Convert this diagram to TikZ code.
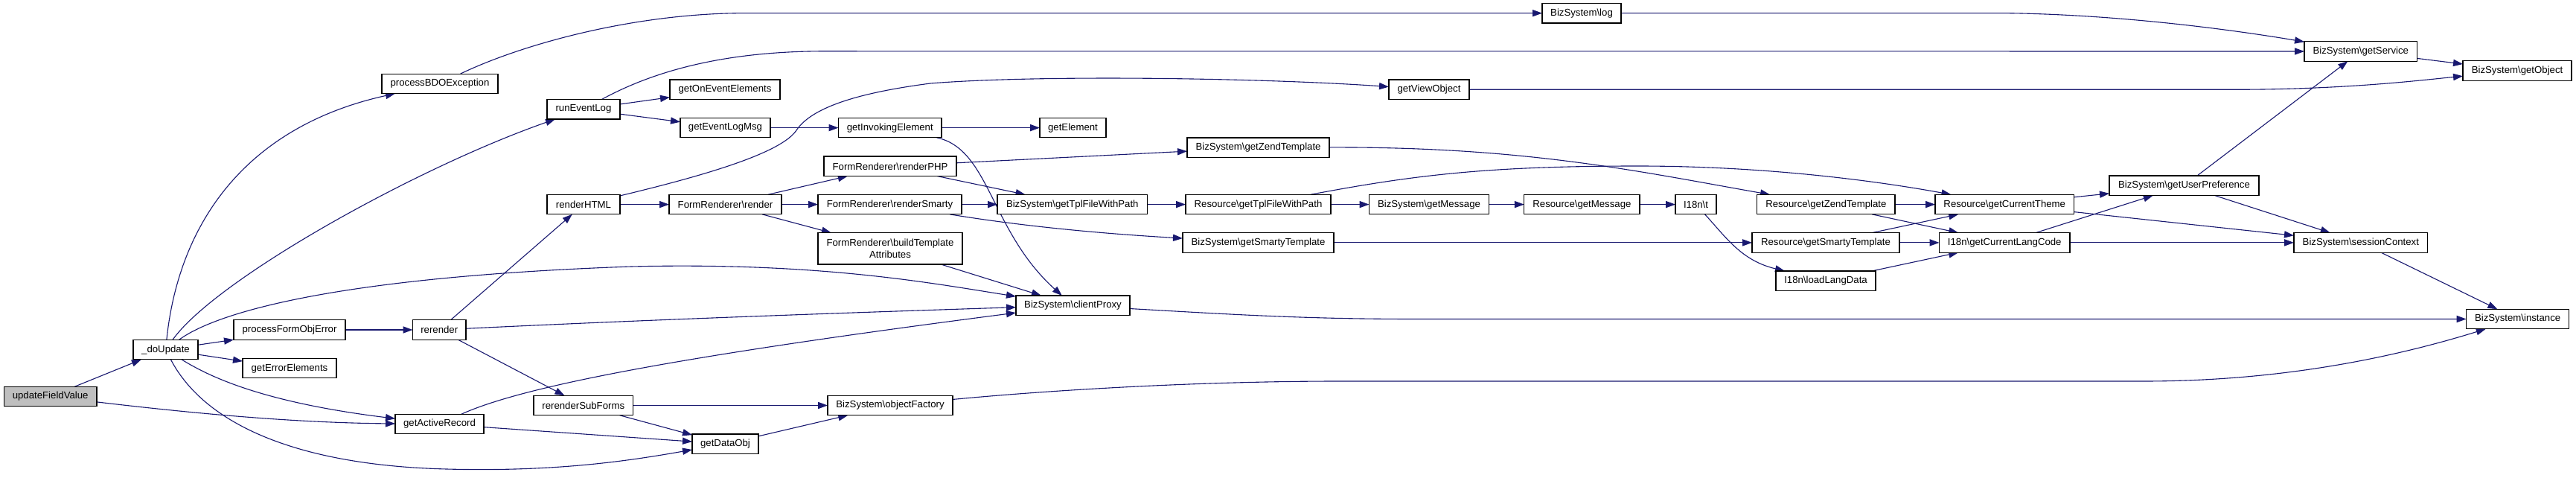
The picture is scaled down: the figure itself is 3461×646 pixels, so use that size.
\documentclass[tikz,border=0pt]{standalone}
\usepackage{fontspec}
\setmainfont{Liberation Sans}
\usetikzlibrary{arrows.meta}
\definecolor{edgeblue}{HTML}{191970}
\definecolor{rootgrey}{HTML}{BFBFBF}
\pgfdeclarelayer{bg}
\pgfsetlayers{bg,main}
\newcommand{\bs}{\textbackslash{}}
\begin{document}
\begin{tikzpicture}[x=0.5pt,y=-0.5pt,
  box/.style={draw=black, line width=0.6pt, fill=white, rectangle, inner sep=0pt, outer sep=0pt,
    minimum height=13.25pt, font=\fontsize{6.6pt}{7.8pt}\selectfont, text=black, align=center},
  ed/.style={draw=edgeblue, line width=0.55pt, -{Triangle[length=6.5pt,width=4.6pt]}}]
\useasboundingbox (0,0) rectangle (3461,646);

\node[box, minimum width=62.3pt, fill=rootgrey] (ufv) at (67.7,532.5) {updateFieldValue};
\node[box, minimum width=43.5pt] (du) at (222.5,469.6) {\_doUpdate};
\node[box, minimum width=78pt] (pbdo) at (591,112.4) {processBDOException};
\node[box, minimum width=75pt] (pfoe) at (389,443) {processFormObjError};
\node[box, minimum width=63pt] (gee) at (389,494.6) {getErrorElements};
\node[box, minimum width=59.5pt] (gar) at (590.5,569.5) {getActiveRecord};
\node[box, minimum width=35.75pt] (rr) at (590.25,443) {rerender};
\node[box, minimum width=49pt] (rel) at (784,146.8) {runEventLog};
\node[box, minimum width=74pt] (goee) at (974,120.3) {getOnEventElements};
\node[box, minimum width=60.5pt] (gelm) at (974.5,171.6) {getEventLogMsg};
\node[box, minimum width=69.25pt] (gie) at (1195.75,171.6) {getInvokingElement};
\node[box, minimum width=49pt] (rh) at (784,274.6) {renderHTML};
\node[box, minimum width=75.5pt] (frr) at (974.5,274.6) {FormRenderer\bs render};
\node[box, minimum width=89pt] (rphp) at (1196,223.3) {FormRenderer\bs renderPHP};
\node[box, minimum width=96.5pt] (rsm) at (1195.5,274.6) {FormRenderer\bs renderSmarty};
\node[box, minimum width=97pt, minimum height=21.15pt] (bta) at (1196,333.8) {FormRenderer\bs buildTemplate\\Attributes};
\node[box, minimum width=66.75pt] (rsf) at (783.75,544.5) {rerenderSubForms};
\node[box, minimum width=44.5pt] (gdo) at (974.5,596.2) {getDataObj};
\node[box, minimum width=84pt] (of) at (1196,544.5) {BizSystem\bs objectFactory};
\node[box, minimum width=44.5pt] (gel) at (1441.5,171.6) {getElement};
\node[box, minimum width=95.5pt] (bgzt) at (1690.5,198.3) {BizSystem\bs getZendTemplate};
\node[box, minimum width=100.75pt] (bgtfp) at (1440.75,274.6) {BizSystem\bs getTplFileWithPath};
\node[box, minimum width=97.5pt] (rgtfp) at (1690.5,274.6) {Resource\bs getTplFileWithPath};
\node[box, minimum width=101.5pt] (bgst) at (1690.5,325.9) {BizSystem\bs getSmartyTemplate};
\node[box, minimum width=76.5pt] (cp) at (1441.5,410.2) {BizSystem\bs clientProxy};
\node[box, minimum width=53pt] (log) at (2125,17.7) {BizSystem\bs log};
\node[box, minimum width=54pt] (gvo) at (1920,120.3) {getViewObject};
\node[box, minimum width=80.5pt] (bgm) at (1920,274.6) {BizSystem\bs getMessage};
\node[box, minimum width=77.65pt] (rgm) at (2125.4,274.6) {Resource\bs getMessage};
\node[box, minimum width=27.5pt] (it) at (2278.5,274.6) {I18n\bs t};
\node[box, minimum width=92.7pt] (rgzt) at (2453.3,274.6) {Resource\bs getZendTemplate};
\node[box, minimum width=99pt] (rgst) at (2453,325.9) {Resource\bs getSmartyTemplate};
\node[box, minimum width=67pt] (lld) at (2453,377.2) {I18n\bs loadLangData};
\node[box, minimum width=93.25pt] (rgct) at (2693.25,274.6) {Resource\bs getCurrentTheme};
\node[box, minimum width=87.75pt] (gclc) at (2693.25,325.9) {I18n\bs getCurrentLangCode};
\node[box, minimum width=100.5pt] (gup) at (2934.5,249.3) {BizSystem\bs getUserPreference};
\node[box, minimum width=75.75pt] (gs) at (3171.75,69) {BizSystem\bs getService};
\node[box, minimum width=73pt] (gob) at (3382,95.1) {BizSystem\bs getObject};
\node[box, minimum width=89.8pt] (sc) at (3171.8,325.9) {BizSystem\bs sessionContext};
\node[box, minimum width=69pt] (inst) at (3382.6,428.5) {BizSystem\bs instance};

\begin{pgfonlayer}{bg}
\fill[white] (0,0) rectangle (3461,646);
\draw[ed] (ufv) -- (du);
\draw[ed] (ufv) .. controls (300,560) and (420,568) .. (gar);
\draw[ed] (du) .. controls (240,300) and (330,170) .. (pbdo);
\draw[ed] (du) .. controls (290,375) and (560,225) .. (rel);
\draw[ed] (du) .. controls (290,420) and (450,372) .. (848,358) .. controls (1100,352) and (1250,380) .. (cp);
\draw[ed] (du) -- (pfoe.south west);
\draw[ed] (du) -- (gee);
\draw[ed] (du) .. controls (280,505) and (350,540) .. (gar);
\draw[ed] (du) .. controls (275,570) and (400,625) .. (600,630) .. controls (750,634) and (850,618) .. (gdo);
\draw[ed] (pbdo) .. controls (700,60) and (850,18) .. (1000,17.6) -- (log);
\draw[ed] (rel) .. controls (870,100) and (960,70) .. (1100,68.8) -- (gs);
\draw[ed] (rel) -- (goee);
\draw[ed] (rel) -- (gelm);
\draw[ed] (gelm) -- (gie);
\draw[ed] (gie) -- (gel);
\draw[ed] (gie) .. controls (1330,200) and (1330,310) .. (cp);
\draw[ed] (rh) .. controls (950,235) and (1050,205) .. (1070,175) .. controls (1090,145) and (1150,125) .. (1250,112) .. controls (1400,100) and (1700,105) .. (gvo);
\draw[ed] (rh) -- (frr);
\draw[ed] (frr) -- (rphp);
\draw[ed] (frr) -- (rsm);
\draw[ed] (frr) -- (bta);
\draw[ed] (rphp) -- (bgzt);
\draw[ed] (rphp) -- (bgtfp);
\draw[ed] (rsm) -- (bgtfp);
\draw[ed] (rsm) .. controls (1350,300) and (1450,312) .. (bgst);
\draw[ed] (bta) -- (cp);
\draw[ed] (rr) -- (rh);
\draw[ed] (rr) .. controls (900,428) and (1200,418) .. (cp);
\draw[ed] (rr) -- (rsf);
\draw[ed] (pfoe) -- (rr);
\draw[ed] (gar) .. controls (700,520) and (900,480) .. (cp);
\draw[ed] (gar) -- (gdo);
\draw[ed] (rsf) -- (of);
\draw[ed] (rsf) -- (gdo);
\draw[ed] (gdo) -- (of);
\draw[ed] (of) .. controls (1400,525) and (1600,512) .. (1800,512) -- (2880,512) .. controls (3050,512) and (3200,485) .. (inst);
\draw[ed] (cp) .. controls (1650,422) and (1750,428.5) .. (1900,428.5) -- (inst);
\draw[ed] (gvo) -- (3000,120.3) .. controls (3150,120.3) and (3250,108) .. (gob);
\draw[ed] (log) -- (2700,17.7) .. controls (2850,20) and (3000,40) .. (gs);
\draw[ed] (gs) -- (gob);
\draw[ed] (bgtfp) -- (rgtfp);
\draw[ed] (bgzt) .. controls (2050,197) and (2200,230) .. (rgzt);
\draw[ed] (rgtfp) .. controls (1900,235) and (2000,223) .. (2200,223) .. controls (2400,223) and (2560,250) .. (rgct);
\draw[ed] (rgtfp) -- (bgm);
\draw[ed] (bgm) -- (rgm);
\draw[ed] (rgm) -- (it);
\draw[ed] (it) .. controls (2320,320) and (2340,350) .. (lld);
\draw[ed] (bgst) -- (rgst);
\draw[ed] (rgzt) -- (rgct);
\draw[ed] (rgzt) -- (gclc);
\draw[ed] (rgst) -- (rgct);
\draw[ed] (rgst) -- (gclc);
\draw[ed] (lld) -- (gclc);
\draw[ed] (rgct) -- (gup);
\draw[ed] (rgct) -- (sc);
\draw[ed] (gclc) -- (gup);
\draw[ed] (gclc) -- (sc);
\draw[ed] (gup) -- (gs);
\draw[ed] (gup) -- (sc);
\draw[ed] (sc) -- (inst);
\end{pgfonlayer}
\end{tikzpicture}
\end{document}
